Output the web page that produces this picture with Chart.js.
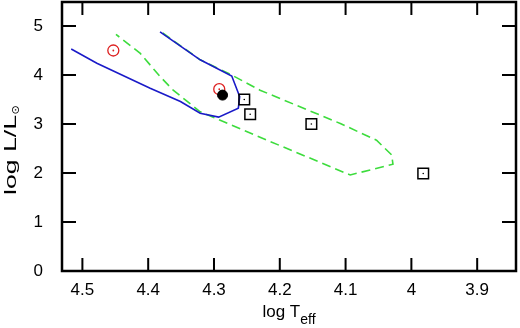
<!DOCTYPE html>
<html>
<head>
<meta charset="utf-8">
<script src="https://cdn.jsdelivr.net/npm/chart.js@4.4.1/dist/chart.umd.min.js"></script>
<style>
  html, body { margin: 0; padding: 0; background: #fff; }
</style>
</head>
<body>
<canvas id="hrd" width="520" height="328"></canvas>
<script>
// tick labels
const xTicks = [4.5, 4.4, 4.3, 4.2, 4.1, 4.0, 3.9];
const yTicks = [0, 1, 2, 3, 4, 5];

// evolutionary track (solid blue)
const blueTeff = [4.517, 4.478, 4.397, 4.351, 4.321, 4.293, 4.263, 4.261, 4.273, 4.321, 4.382];
const blueLum  = [4.53, 4.24, 3.73, 3.46, 3.22, 3.14, 3.32, 3.56, 3.98, 4.31, 4.88];

// second track (dashed green)
const greenTeff = [4.378, 4.321, 4.276, 4.230, 4.108, 4.053, 4.030, 4.028, 4.093, 4.230, 4.321, 4.362, 4.382, 4.412, 4.449];
const greenLum  = [4.86, 4.31, 4.02, 3.69, 3.01, 2.67, 2.37, 2.18, 1.96, 2.73, 3.25, 3.69, 3.97, 4.44, 4.83];

// observed stars
const redTeff = [4.453, 4.292];
const redLum  = [4.50, 3.71];
const blackTeff = [4.287];
const blackLum  = [3.59];
const squareTeff = [4.254, 4.245, 4.152, 3.982];
const squareLum  = [3.50, 3.20, 3.00, 1.99];

const pts = (xs, ys) => xs.map((x, i) => ({x, y: ys[i]}));
const FONT = '"Liberation Sans", Arial, Helvetica, sans-serif';

const frame = {
  id: 'frame',
  afterDraw(chart) {
    const {ctx, chartArea: a, scales: {x, y}} = chart;
    ctx.save();
    ctx.strokeStyle = '#000';
    ctx.lineWidth = 2;
    ctx.beginPath();
    for (const v of xTicks) {
      const px = x.getPixelForValue(v);
      ctx.moveTo(px, a.bottom); ctx.lineTo(px, a.bottom - 13);
      ctx.moveTo(px, a.top); ctx.lineTo(px, a.top + 13);
    }
    for (const v of yTicks) {
      const py = y.getPixelForValue(v);
      ctx.moveTo(a.left, py); ctx.lineTo(a.left + 14, py);
      ctx.moveTo(a.right, py); ctx.lineTo(a.right - 14, py);
    }
    ctx.stroke();
    ctx.lineWidth = 2.5;
    ctx.strokeRect(a.left, a.top, a.right - a.left, a.bottom - a.top);

    // x title: log T_eff
    ctx.fillStyle = '#000';
    ctx.textBaseline = 'alphabetic';
    ctx.textAlign = 'left';
    ctx.font = '17px ' + FONT;
    const main = 'log T';
    const mw = ctx.measureText(main).width;
    ctx.font = '14px ' + FONT;
    const sw = ctx.measureText('eff').width;
    const x0 = (a.left + a.right) / 2 - (mw + sw) / 2;
    ctx.font = '17px ' + FONT;
    ctx.fillText(main, x0, 317);
    ctx.font = '14px ' + FONT;
    ctx.fillText('eff', x0 + mw, 324);

    // y title: log L/L_sun (rotated)
    ctx.save();
    ctx.rotate(-Math.PI / 2);
    ctx.font = '16px ' + FONT;
    const yt = 'log L/L';
    const yw = ctx.measureText(yt).width;
    ctx.save();
    ctx.translate(-195, 15.5);
    ctx.scale(80 / yw, 1);
    ctx.fillText(yt, 0, 0);
    ctx.restore();
    ctx.font = '11px "DejaVu Sans", sans-serif';
    ctx.textAlign = 'center';
    ctx.textBaseline = 'middle';
    ctx.fillText('\u2299', -110, 16.5);
    ctx.restore();
    ctx.restore();
  }
};

new Chart(document.getElementById('hrd'), {
  type: 'scatter',
  data: {
    datasets: [
      {
        data: pts(squareTeff, squareLum),
        pointStyle: 'rect', pointRadius: 7.5, pointHoverRadius: 7.5,
        borderColor: '#000', backgroundColor: 'rgba(0,0,0,0)', borderWidth: 1.5,
        order: 1
      },
      {
        data: pts(squareTeff, squareLum),
        pointRadius: 0.8, pointHoverRadius: 0.8,
        borderColor: '#000', backgroundColor: '#000', borderWidth: 0,
        order: 0
      },
      {
        data: pts(blackTeff, blackLum),
        pointRadius: 5, pointHoverRadius: 5,
        borderColor: '#000', backgroundColor: '#000', borderWidth: 1,
        order: 2
      },
      {
        data: pts(redTeff, redLum),
        pointRadius: 5.5, pointHoverRadius: 5.5,
        borderColor: '#dd1f1f', backgroundColor: 'rgba(0,0,0,0)', borderWidth: 1.3,
        order: 3
      },
      {
        data: pts(redTeff, redLum),
        pointRadius: 0.9, pointHoverRadius: 0.9,
        borderColor: '#dd1f1f', backgroundColor: '#dd1f1f', borderWidth: 0,
        order: 3
      },
      {
        data: pts(blueTeff, blueLum),
        showLine: true, pointRadius: 0,
        borderColor: '#1a1ac8', borderWidth: 1.6, tension: 0,
        order: 4
      },
      {
        data: pts(greenTeff, greenLum),
        showLine: true, pointRadius: 0,
        borderColor: '#3ddc3d', borderWidth: 1.6, borderDash: [9, 5], tension: 0,
        order: 5
      }
    ]
  },
  options: {
    responsive: false,
    animation: false,
    devicePixelRatio: 1,
    layout: {autoPadding: false, padding: {left: 0, right: 4, top: 2, bottom: 0}},
    plugins: {legend: {display: false}, tooltip: {enabled: false}},
    scales: {
      x: {
        type: 'linear', reverse: true, min: 3.841, max: 4.531,
        grid: {display: false}, border: {display: false},
        afterBuildTicks: s => { s.ticks = xTicks.map(v => ({value: v})); },
        afterFit: s => { s.height = 57; s.paddingLeft = 0; s.paddingRight = 0; },
        ticks: {
          color: '#000', padding: 1, maxRotation: 0,
          font: {family: FONT, size: 17},
          callback: v => String(Number(v.toFixed(1)))
        }
      },
      y: {
        type: 'linear', min: 0, max: 5.49,
        grid: {display: false}, border: {display: false},
        afterBuildTicks: s => { s.ticks = yTicks.map(v => ({value: v})); },
        afterFit: s => { s.width = 62; s.paddingTop = 0; s.paddingBottom = 0; },
        ticks: {
          color: '#000', padding: 11,
          font: {family: FONT, size: 17},
          callback: v => String(v)
        }
      }
    }
  },
  plugins: [frame]
});
</script>
</body>
</html>
